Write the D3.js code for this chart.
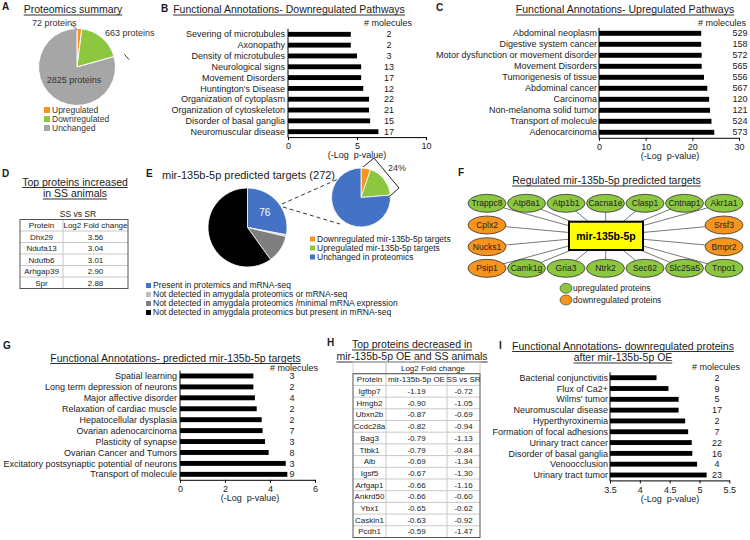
<!DOCTYPE html>
<html><head><meta charset="utf-8">
<script src="https://cdn.jsdelivr.net/npm/d3@7"></script>
<style>
html,body{margin:0;padding:0;background:#fff;}
svg{display:block;font-family:"Liberation Sans",Arial,sans-serif;}
</style></head><body>
<svg id="fig" width="750" height="540"></svg>
<script>
// ---------------- DATA ----------------
const proteomicsLabels = ["Upregulated", "Downregulated", "Unchanged"];
const proteomicsCounts = [72, 663, 2825];
const proteomicsText = ["72 proteins", "663 proteins", "2825 proteins"];

const downPathways = ["Severing of microtubules", "Axonopathy", "Density of microtubules", "Neurological signs", "Movement Disorders", "Huntington's Disease", "Organization of cytoplasm", "Organization of cytoskeleton", "Disorder of basal ganglia", "Neuromuscular disease"];
const downLogP = [4.55, 4.55, 5.0, 5.3, 5.3, 5.45, 5.87, 5.87, 5.95, 6.55];
const downMolecules = [2, 2, 3, 13, 17, 12, 22, 21, 15, 17];
const downTicks = [0, 5, 10];

const upPathways = ["Abdominal neoplasm", "Digestive system cancer", "Motor dysfunction or movement disorder", "Movement Disorders", "Tumorigenesis of tissue", "Abdominal cancer", "Carcinoma", "Non-melanoma solid tumor", "Transport of molecule", "Adenocarcinoma"];
const upLogP = [21.9, 21.9, 22.0, 22.0, 22.5, 23.2, 23.6, 23.8, 24.1, 24.7];
const upMolecules = [529, 158, 572, 565, 556, 567, 120, 121, 524, 573];
const upTicks = [0, 10, 20, 30];

const increasedProteins = ["Dhx29", "Ndufa13", "Ndufb6", "Arhgap39", "Spr"];
const increasedFC = ["3.56", "3.04", "3.01", "2.90", "2.88"];

const targetCategories = ["Present in protemics and mRNA-seq", "Not detected in amygdala proteomics or mRNA-seq", "Not detected in amygdala proteomics /minimal mRNA expression", "Not detected in amygdala proteomics but present in mRNA-seq"];
const targetCounts = [76, 2, 31, 163];
const presentCategories = ["Downregulated mir-135b-5p targets", "Upregulated mir-135b-5p targets", "Unchanged in proteomics"];
const presentCounts = [4, 14, 58];

const networkTop = ["Trappc8", "Atp8a1", "Atp1b1", "Cacna1e", "Clasp1", "Cntnap1", "Akr1a1"];
const networkBottom = ["Psip1", "Camk1g", "Gria3", "Ntrk2", "Sec62", "Slc25a5", "Tnpo1"];
const networkLeft = ["Cplx2", "Nucks1"];
const networkRight = ["Srsf3", "Bmpr2"];
const downregulatedNodes = ["Cplx2", "Nucks1", "Psip1", "Srsf3", "Bmpr2"];

const predictedPathways = ["Spatial learning", "Long term depression of neurons", "Major affective disorder", "Relaxation of cardiac muscle", "Hepatocellular dysplasia", "Ovarian adenocarcinoma", "Plasticity of synapse", "Ovarian Cancer and Tumors", "Excitatory postsynaptic potential of neurons", "Transport of molecule"];
const predictedLogP = [3.26, 3.26, 3.33, 3.41, 3.63, 3.67, 3.78, 3.94, 4.7, 4.77];
const predictedMolecules = [3, 2, 4, 2, 2, 7, 3, 8, 3, 9];
const predictedTicks = [0, 2, 4, 6];

const decreasedProteins = ["Igfbp7", "Hmgb2", "Ubxn2b", "Ccdc28a", "Bag3", "Ttbk1", "Alb", "Igsf5", "Arfgap1", "Ankrd50", "Ybx1", "Caskin1", "Pcdh1"];
const decreasedOE = ["-1.19", "-0.90", "-0.87", "-0.82", "-0.79", "-0.79", "-0.69", "-0.67", "-0.66", "-0.66", "-0.65", "-0.63", "-0.59"];
const decreasedSS = ["-0.72", "-1.05", "-0.69", "-0.94", "-1.13", "-0.84", "-1.34", "-1.30", "-1.16", "-0.60", "-0.62", "-0.92", "-1.47"];

const oePathways = ["Bacterial conjunctivitis", "Flux of Ca2+", "Wilms' tumor", "Neuromuscular disease", "Hyperthyroxinemia", "Formation of focal adhesions", "Urinary tract cancer", "Disorder of basal ganglia", "Venoocclusion", "Urinary tract tumor"];
const oeLogP = [4.28, 4.48, 4.65, 4.65, 4.76, 4.81, 4.87, 4.88, 4.96, 5.12];
const oeMolecules = [2, 9, 5, 17, 2, 7, 22, 16, 4, 23];
const oeTicks = [3.5, 4, 4.5, 5, 5.5];

// ---------------- HELPERS ----------------
const FONT = "Liberation Sans, Arial, sans-serif";
const TXT = "#1a1a1a";
const ORANGE = "#F7941D", GREEN = "#8DC63F", GRAY = "#A6A6A6", BLUE = "#4472C4";
const svg = d3.select("#fig");
svg.append("rect").attr("width", 750).attr("height", 540).attr("fill", "#fff");

function panelLabel(t, x, y) {
  svg.append("text").attr("x", x).attr("y", y).attr("font-size", 10).attr("font-weight", "bold").attr("fill", TXT).text(t);
}
function title(lines, cx, y0, lh, underline = true, size = 10.5) {
  lines.forEach((s, i) => {
    const y = y0 + i * lh;
    const t = svg.append("text").attr("x", cx).attr("y", y).attr("text-anchor", "middle")
      .attr("font-size", size).attr("fill", TXT).text(s);
    if (underline) {
      const w = t.node().getComputedTextLength();
      svg.append("line").attr("x1", cx - w / 2).attr("x2", cx + w / 2).attr("y1", y + 2).attr("y2", y + 2)
        .attr("stroke", TXT).attr("stroke-width", 0.9);
    }
  });
}
function barChart(o) {
  const n = o.labels.length;
  const x = d3.scaleLinear().domain(o.domain).range([o.x0, o.x1]);
  const y = d3.scaleBand().domain(d3.range(n)).range([o.yTop, o.yBottom]).paddingInner(0.55).paddingOuter(0.275);
  const g = svg.append("g");
  g.selectAll("rect").data(o.values).join("rect")
    .attr("x", x(o.domain[0])).attr("y", (d, i) => y(i))
    .attr("width", d => x(d) - x(o.domain[0])).attr("height", y.bandwidth()).attr("fill", "#000");
  g.selectAll("text.lab").data(o.labels).join("text").attr("class", "lab")
    .attr("x", o.x0 - o.labGap).attr("y", (d, i) => y(i) + y.bandwidth() / 2).attr("dy", "0.35em")
    .attr("text-anchor", "end").attr("font-size", 9).attr("fill", TXT).text(d => d);
  g.selectAll("text.num").data(o.molecules).join("text").attr("class", "num")
    .attr("x", o.numX).attr("y", (d, i) => y(i) + y.bandwidth() / 2).attr("dy", "0.35em")
    .attr("text-anchor", "middle").attr("font-size", 9).attr("fill", TXT).text(d => d);
  const ax = g.append("g").attr("transform", `translate(0,${o.yBottom})`)
    .call(d3.axisBottom(x).tickValues(o.ticks).tickSize(3).tickSizeOuter(0).tickFormat(d => String(d)));
  ax.attr("font-family", FONT).attr("font-size", 9);
  ax.select(".domain").attr("stroke", "#000");
  ax.selectAll(".tick line").attr("stroke", "#000");
  ax.selectAll(".tick text").attr("fill", TXT);
  g.append("line").attr("x1", o.x0).attr("x2", o.x0).attr("y1", o.yTop).attr("y2", o.yBottom + 0.5).attr("stroke", "#000");
  g.append("text").attr("x", o.xlabX).attr("y", o.xlabY).attr("text-anchor", "middle").attr("font-size", 9)
    .attr("fill", TXT).attr("xml:space", "preserve").text("(-Log  p-value)");
  g.append("text").attr("x", o.molX).attr("y", o.molY).attr("text-anchor", o.molAnchor || "middle")
    .attr("font-size", 9).attr("fill", TXT).text("# molecules");
}
function table(o) {
  const g = svg.append("g").attr("font-size", 8).attr("fill", TXT);
  const cols = o.cols;
  const nRows = o.rows.length;
  const h = o.rowH;
  for (let r = 1; r < nRows; r++) {
    g.append("line").attr("x1", cols[0]).attr("x2", cols[cols.length - 1])
      .attr("y1", o.y + r * h).attr("y2", o.y + r * h).attr("stroke", "#c8c8c8").attr("stroke-width", 1);
  }
  for (let c = 1; c < cols.length - 1; c++) {
    g.append("line").attr("x1", cols[c]).attr("x2", cols[c]).attr("y1", o.y).attr("y2", o.y + nRows * h)
      .attr("stroke", "#c8c8c8").attr("stroke-width", 1);
  }
  g.append("rect").attr("x", cols[0]).attr("y", o.y).attr("width", cols[cols.length - 1] - cols[0])
    .attr("height", nRows * h).attr("fill", "none").attr("stroke", "#555").attr("stroke-width", 1);
  o.rows.forEach((row, r) => {
    row.forEach((cell, c) => {
      g.append("text").attr("x", (cols[c] + cols[c + 1]) / 2).attr("y", o.y + r * h + h / 2).attr("dy", "0.35em")
        .attr("text-anchor", "middle").text(cell);
    });
  });
}

// ---------------- PANEL A ----------------
panelLabel("A", 2, 10);
title(["Proteomics summary"], 73, 13, 12);
{
  const colors = [ORANGE, GREEN, GRAY];
  const arcs = d3.pie().sort(null).value(d => d)(proteomicsCounts);
  const arc = d3.arc().innerRadius(0).outerRadius(38.5);
  const g = svg.append("g").attr("transform", "translate(77,67)");
  g.selectAll("path").data(arcs).join("path").attr("d", arc).attr("fill", (d, i) => colors[i])
    .attr("stroke", "#fff").attr("stroke-width", 1);
  svg.append("text").attr("x", 32).attr("y", 26).attr("font-size", 9).attr("fill", "#333").text(proteomicsText[0]);
  svg.append("line").attr("x1", 71).attr("y1", 24).attr("x2", 77.5).attr("y2", 30).attr("stroke", "#333").attr("stroke-width", 0.8);
  svg.append("text").attr("x", 105).attr("y", 36).attr("font-size", 9).attr("fill", "#333").text(proteomicsText[1]);
  svg.append("text").attr("x", 74).attr("y", 83).attr("text-anchor", "middle").attr("font-size", 9).attr("fill", "#333").text(proteomicsText[2]);
  svg.append("line").attr("x1", 124.5).attr("y1", 54.5).attr("x2", 129).attr("y2", 59.5).attr("stroke", "#333").attr("stroke-width", 1);
  const lg = svg.append("g");
  proteomicsLabels.forEach((l, i) => {
    const yc = 110 + i * 9;
    lg.append("rect").attr("x", 44).attr("y", yc - 3).attr("width", 6).attr("height", 6).attr("fill", colors[i]);
    lg.append("text").attr("x", 52).attr("y", yc).attr("dy", "0.35em").attr("font-size", 8.5).attr("fill", "#333").text(l);
  });
}

// ---------------- PANEL B ----------------
panelLabel("B", 161, 12);
title(["Functional Annotations- Downregulated Pathways"], 289, 13, 12);
barChart({labels: downPathways, values: downLogP, molecules: downMolecules, ticks: downTicks, domain: [0, 10],
  x0: 288, x1: 426, yTop: 28.9, yBottom: 137.1, labGap: 3, numX: 389, xlabX: 357, xlabY: 158, molX: 388, molY: 26});

// ---------------- PANEL C ----------------
panelLabel("C", 436, 11);
title(["Functional Annotations- Upregulated Pathways"], 625, 13, 12);
barChart({labels: upPathways, values: upLogP, molecules: upMolecules, ticks: upTicks, domain: [0, 30],
  x0: 599, x1: 739, yTop: 27.8, yBottom: 137.8, labGap: 2, numX: 740, xlabX: 670, xlabY: 159, molX: 698, molY: 26, molAnchor: "start"});

// ---------------- PANEL D ----------------
panelLabel("D", 2, 177);
title(["Top proteins increased", "in SS animals"], 75, 185.5, 11.5);
svg.append("text").attr("x", 78).attr("y", 217).attr("text-anchor", "middle").attr("font-size", 8.5).attr("fill", TXT).text("SS vs SR");
table({cols: [20, 63, 128], y: 219.5, rowH: 11.5,
  rows: [["Protein", "Log2 Fold change"]].concat(increasedProteins.map((p, i) => [p, increasedFC[i]]))});

// ---------------- PANEL E ----------------
panelLabel("E", 146, 177);
svg.append("text").attr("x", 162).attr("y", 179).attr("font-size", 11).attr("fill", TXT).text("mir-135b-5p predicted targets (272)");
{
  const colors = [BLUE, "#BFBFBF", "#7F7F7F", "#000000"];
  const arcs = d3.pie().sort(null).value(d => d)(targetCounts);
  const arc = d3.arc().innerRadius(0).outerRadius(39.5);
  const g = svg.append("g").attr("transform", "translate(247.5,227.5)");
  g.selectAll("path").data(arcs).join("path").attr("d", arc).attr("fill", (d, i) => colors[i])
    .attr("stroke", "#fff").attr("stroke-width", 0.8);
  const c = arc.centroid(arcs[0]);
  g.append("text").attr("x", c[0] + 2).attr("y", c[1] - 2).attr("text-anchor", "middle").attr("dy", "0.35em")
    .attr("font-size", 10).attr("fill", "#fff").text(targetCounts[0]);

  svg.append("line").attr("x1", 282).attr("y1", 204).attr("x2", 345).attr("y2", 176)
    .attr("stroke", "#333").attr("stroke-width", 1).attr("stroke-dasharray", "4,3");
  svg.append("line").attr("x1", 283).attr("y1", 207).attr("x2", 340).attr("y2", 224)
    .attr("stroke", "#333").attr("stroke-width", 1).attr("stroke-dasharray", "4,3");

  const colors2 = [ORANGE, GREEN, BLUE];
  const arcs2 = d3.pie().sort(null).value(d => d)(presentCounts);
  const arc2 = d3.arc().innerRadius(0).outerRadius(29.5);
  const g2 = svg.append("g").attr("transform", "translate(361,197.5)");
  g2.selectAll("path").data(arcs2).join("path").attr("d", arc2).attr("fill", (d, i) => colors2[i])
    .attr("stroke", "#fff").attr("stroke-width", 0.8);
  svg.append("polyline").attr("points", "363,167 374,158 399,188 390,196").attr("fill", "none")
    .attr("stroke", "#222").attr("stroke-width", 1);
  svg.append("text").attr("x", 388).attr("y", 171).attr("font-size", 9).attr("fill", "#333").text("24%");

  presentCategories.forEach((l, i) => {
    const yc = 239 + i * 9;
    svg.append("rect").attr("x", 310).attr("y", yc - 2.5).attr("width", 5).attr("height", 5).attr("fill", colors2[i]);
    svg.append("text").attr("x", 317).attr("y", yc).attr("dy", "0.35em").attr("font-size", 8.5).attr("fill", TXT).text(l);
  });
  targetCategories.forEach((l, i) => {
    const yc = 285.5 + i * 9;
    svg.append("rect").attr("x", 146).attr("y", yc - 2.5).attr("width", 5).attr("height", 5).attr("fill", colors[i]);
    svg.append("text").attr("x", 153).attr("y", yc).attr("dy", "0.35em").attr("font-size", 8.5).attr("fill", TXT).text(l);
  });
}

// ---------------- PANEL F ----------------
panelLabel("F", 458, 176);
title(["Regulated mir-135b-5p predicted targets"], 606.5, 184, 12);
{
  const xs = d3.scalePoint().domain(d3.range(7)).range([487, 724]);
  const rowY = [203.3, 225, 246.7, 268.3];
  const nodes = [];
  networkTop.forEach((n, i) => nodes.push({name: n, x: xs(i), y: rowY[0]}));
  networkLeft.forEach((n, i) => nodes.push({name: n, x: xs(0), y: rowY[i + 1]}));
  networkRight.forEach((n, i) => nodes.push({name: n, x: xs(6), y: rowY[i + 1]}));
  networkBottom.forEach((n, i) => nodes.push({name: n, x: xs(i), y: rowY[3]}));
  const box = {x: 569, y: 221.7, w: 74, h: 28.3};
  const bc = [box.x + box.w / 2, box.y + box.h / 2];
  const g = svg.append("g");
  g.selectAll("line").data(nodes).join("line").attr("x1", d => d.x).attr("y1", d => d.y)
    .attr("x2", bc[0]).attr("y2", bc[1]).attr("stroke", "#555").attr("stroke-width", 0.8);
  g.selectAll("ellipse").data(nodes).join("ellipse").attr("cx", d => d.x).attr("cy", d => d.y).attr("rx", 19).attr("ry", 9)
    .attr("fill", d => downregulatedNodes.includes(d.name) ? ORANGE : GREEN).attr("stroke", "#333").attr("stroke-width", 0.8);
  g.selectAll("text").data(nodes).join("text").attr("x", d => d.x).attr("y", d => d.y).attr("dy", "0.35em")
    .attr("text-anchor", "middle").attr("font-size", 8.5).attr("fill", "#222").text(d => d.name);
  g.append("rect").attr("x", box.x).attr("y", box.y).attr("width", box.w).attr("height", box.h)
    .attr("fill", "#FFFF00").attr("stroke", "#000").attr("stroke-width", 2);
  g.append("text").attr("x", bc[0]).attr("y", bc[1]).attr("dy", "0.35em").attr("text-anchor", "middle")
    .attr("font-size", 10.5).attr("font-weight", "bold").attr("fill", "#000").text("mir-135b-5p");
  const leg = [["upregulated proteins", GREEN], ["downregulated proteins", ORANGE]];
  leg.forEach(([l, c], i) => {
    const yc = 288.3 + i * 11.7;
    g.append("ellipse").attr("cx", 566).attr("cy", yc).attr("rx", 6).attr("ry", 5).attr("fill", c).attr("stroke", "#333").attr("stroke-width", 0.6);
    g.append("text").attr("x", 573).attr("y", yc).attr("dy", "0.35em").attr("font-size", 8.5).attr("fill", TXT).text(l);
  });
}

// ---------------- PANEL G ----------------
panelLabel("G", 3, 349);
title(["Functional Annotations- predicted mir-135b-5p targets"], 175.5, 361.5, 12);
barChart({labels: predictedPathways, values: predictedLogP, molecules: predictedMolecules, ticks: predictedTicks, domain: [0, 6],
  x0: 180, x1: 315, yTop: 370.5, yBottom: 479.8, labGap: 3, numX: 292, xlabX: 250, xlabY: 501, molX: 294, molY: 370.5});

// ---------------- PANEL H ----------------
panelLabel("H", 327, 346);
title(["Top proteins decreased in", "mir-135b-5p OE and SS animals"], 412, 348, 12);
{
  const cols = [353, 386, 447, 480];
  const top = 362, h = 11.7;
  svg.append("rect").attr("x", cols[0]).attr("y", top).attr("width", cols[1] - cols[0]).attr("height", h)
    .attr("fill", "none").attr("stroke", "#d0d0d0");
  svg.append("rect").attr("x", cols[1]).attr("y", top).attr("width", cols[3] - cols[1]).attr("height", h)
    .attr("fill", "none").attr("stroke", "#d0d0d0");
  svg.append("text").attr("x", (cols[1] + cols[3]) / 2).attr("y", top + h / 2).attr("dy", "0.35em")
    .attr("text-anchor", "middle").attr("font-size", 8).attr("fill", TXT).text("Log2 Fold change");
  table({cols: cols, y: top + h, rowH: h,
    rows: [["Protein", "mir-135b-5p OE", "SS vs SR"]].concat(decreasedProteins.map((p, i) => [p, decreasedOE[i], decreasedSS[i]]))});
}

// ---------------- PANEL I ----------------
panelLabel("I", 499, 349);
title(["Functional Annotations- downregulated proteins", "after mir-135b-5p OE"], 623, 349.5, 11.5);
barChart({labels: oePathways, values: oeLogP, molecules: oeMolecules, ticks: oeTicks, domain: [3.5, 5.5],
  x0: 610, x1: 729.3, yTop: 372.3, yBottom: 480.4, labGap: 2, numX: 717, xlabX: 670, xlabY: 502, molX: 716, molY: 370});
</script>
</body></html>
